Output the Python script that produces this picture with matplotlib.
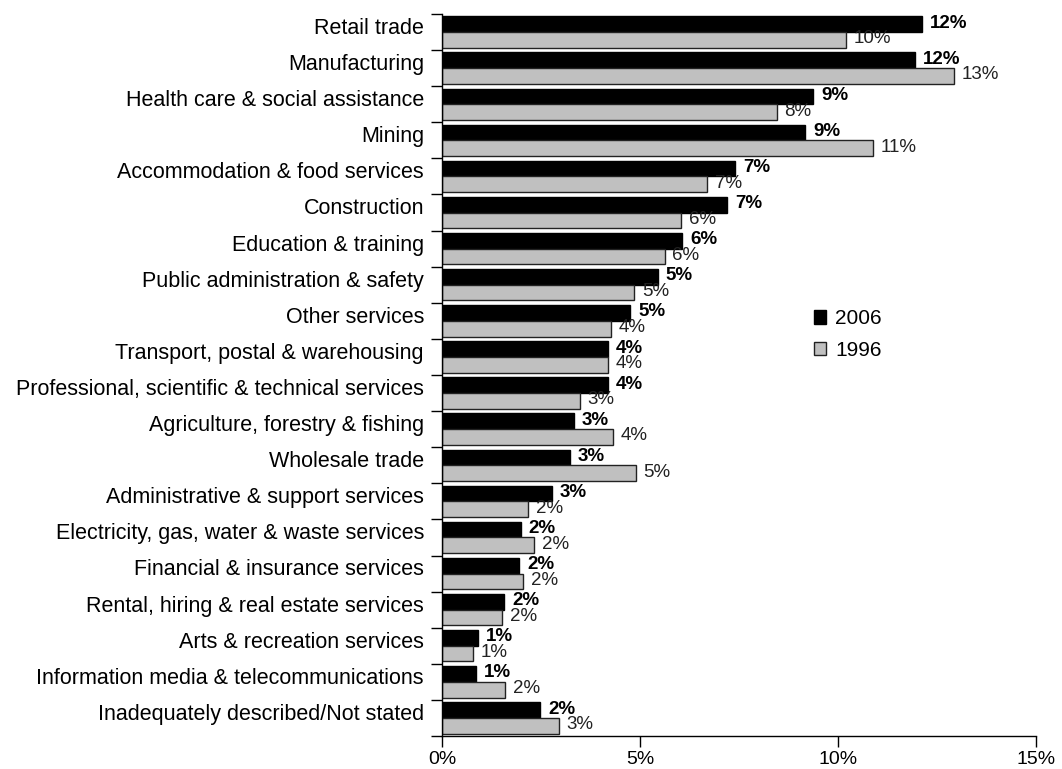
import numpy as np
import matplotlib
matplotlib.use("Agg")
import matplotlib.pyplot as plt
from matplotlib.ticker import FuncFormatter

plt.rcParams['font.family'] = ['Liberation Sans', 'DejaVu Sans']

categories = [
    'Retail trade',
    'Manufacturing',
    'Health care & social assistance',
    'Mining',
    'Accommodation & food services',
    'Construction',
    'Education & training',
    'Public administration & safety',
    'Other services',
    'Transport, postal & warehousing',
    'Professional, scientific & technical services',
    'Agriculture, forestry & fishing',
    'Wholesale trade',
    'Administrative & support services',
    'Electricity, gas, water & waste services',
    'Financial & insurance services',
    'Rental, hiring & real estate services',
    'Arts & recreation services',
    'Information media & telecommunications',
    'Inadequately described/Not stated',
]
share_2006 = [12.12, 11.94, 9.37, 9.17, 7.40, 7.20, 6.06, 5.45, 4.75, 4.19,
              4.19, 3.33, 3.22, 2.77, 1.99, 1.95, 1.57, 0.90, 0.87, 2.48]
share_1996 = [10.20, 12.93, 8.45, 10.88, 6.70, 6.03, 5.62, 4.85, 4.26, 4.19,
              3.48, 4.31, 4.89, 2.17, 2.33, 2.05, 1.52, 0.78, 1.60, 2.95]
series_labels = ['2006', '1996']

fig = plt.figure(figsize=(10.62, 7.69), dpi=100)
ax = fig.add_axes([0.4162, 0.0429, 0.5593, 0.9389])

y = np.arange(len(categories))
h = 0.435
ax.barh(y - h / 2, share_2006, height=h, color='black', edgecolor='black',
        linewidth=1, label=series_labels[0])
ax.barh(y + h / 2, share_1996, height=h, color='#c0c0c0', edgecolor='#222222',
        linewidth=1, label=series_labels[1])

for yi, v in zip(y, share_2006):
    ax.text(v + 0.2, yi - h / 2 - 0.03, f'{v:.0f}%', va='center', ha='left',
            fontsize=13.5, fontweight='bold', color='black')
for yi, v in zip(y, share_1996):
    ax.text(v + 0.2, yi + h / 2 - 0.03, f'{v:.0f}%', va='center', ha='left',
            fontsize=13.5, color='#222222')

ax.set_xlim(0, 15)
ax.set_ylim(len(categories) - 0.5, -0.5)
ax.set_xticks([0, 5, 10, 15])
ax.xaxis.set_major_formatter(FuncFormatter(lambda v, p: f'{v:.0f}%'))
ax.tick_params(axis='x', direction='out', length=8, width=1, labelsize=14, pad=3)

# category labels sit a little above the centre of each pair of bars
ax.set_yticks(y - 0.17)
ax.set_yticklabels(categories, fontsize=15.5)
ax.set_yticks(np.arange(len(categories) + 1) - 0.5, minor=True)
ax.tick_params(axis='y', which='major', length=0, pad=13)
ax.tick_params(axis='y', which='minor', direction='out', length=8, width=1)

for s in ['top', 'right']:
    ax.spines[s].set_visible(False)
for s in ['left', 'bottom']:
    ax.spines[s].set_linewidth(1)

ax.legend(frameon=False, loc='upper left', bbox_to_anchor=(0.594, 0.617),
          fontsize=15, handlelength=0.6, handleheight=0.6, handletextpad=0.45,
          labelspacing=0.6)

fig.savefig('out.png', dpi=100)
